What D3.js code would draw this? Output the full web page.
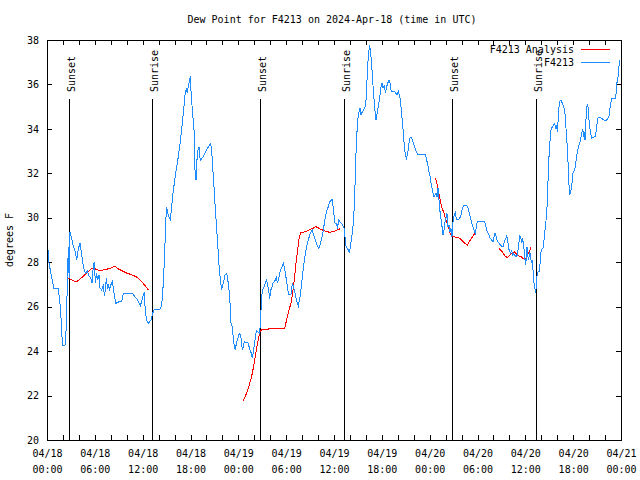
<!DOCTYPE html>
<html><head><meta charset="utf-8">
<script src="https://cdn.jsdelivr.net/npm/d3@7"></script>
<style>
html,body{margin:0;padding:0;background:#fff;}
svg{display:block;font-family:"DejaVu Sans Mono",monospace;font-size:10px;}
</style></head><body>
<svg id="chart" width="640" height="480"></svg>
<script>
// ---------- data ----------
const chartTitle = "Dew Point for F4213 on 2024-Apr-18 (time in UTC)";
const yAxisLabel = "degrees F";
const startTime = "2024-04-18T00:00:00Z";
const xDomainHours = [0, 72];
const yDomain = [20, 38];
const yTickValues = [20, 22, 24, 26, 28, 30, 32, 34, 36, 38];
const xLabelHours = [0, 6, 12, 18, 24, 30, 36, 42, 48, 54, 60, 66, 72];
const xTickHours = [0,2,4,6,8,10,12,14,16,18,20,22,24,26,28,30,32,34,36,38,40,42,44,46,48,50,52,54,56,58,60,62,64,66,68,70,72];
const seriesNames = ["F4213 Analysis", "F4213"];
const seriesColors = ["#ff0000", "#1e8cff"];
const sunEventNames = ["Sunset", "Sunrise", "Sunset", "Sunrise", "Sunset", "Sunrise"];
const sunEventHours = [2.8, 13.21, 26.72, 37.3, 50.84, 61.3];

// observed F4213 (hours since start, dew point F)
const obsHours = [0.17,0.22,0.59,0.88,1.42,1.71,1.84,1.96,2.26,2.38,2.47,2.6,2.67,2.78,2.88,3.09,3.3,3.5,3.72,3.84,4.01,4.14,4.35,4.56,4.81,5.06,5.27,5.48,5.65,5.81,5.94,6.06,6.23,6.36,6.52,6.65,6.86,7.07,7.2,7.32,7.45,7.57,7.7,7.82,8.03,8.2,8.4,8.61,8.82,9.16,9.37,9.58,9.79,10.62,10.83,11.12,11.33,11.54,11.7,11.88,12.08,12.2,12.29,12.41,12.58,12.71,13.05,13.26,13.46,14.17,14.38,14.51,14.63,14.76,14.89,15.01,15.14,15.3,15.47,15.64,15.8,15.97,16.13,16.3,16.47,16.64,16.81,16.97,17.14,17.31,17.47,17.6,17.72,17.85,17.98,18.1,18.27,18.44,18.56,18.69,18.81,18.94,19.06,19.15,19.27,19.61,20.03,20.36,20.53,20.65,20.78,20.95,21.07,21.24,21.41,21.53,21.66,21.78,21.91,22.03,22.16,22.33,22.54,22.66,22.83,22.96,23.08,23.25,23.37,23.5,23.62,23.75,23.87,24.0,24.13,24.25,24.38,24.5,24.63,24.75,25.0,25.2,25.41,25.63,25.75,25.92,26.09,26.26,26.47,26.68,26.76,26.89,27.01,27.18,27.31,27.43,27.56,27.68,27.81,27.93,28.06,28.18,28.35,28.48,28.64,28.77,28.9,29.06,29.19,29.31,29.48,29.65,29.78,29.9,30.03,30.15,30.28,30.61,30.78,30.9,31.07,31.24,31.4,31.53,31.65,31.78,31.9,32.03,32.15,32.28,32.45,32.61,32.78,32.95,33.12,33.28,33.45,33.62,33.79,33.95,34.12,34.29,34.46,34.62,34.79,34.96,35.13,35.29,35.46,35.63,35.8,35.97,36.13,36.3,36.43,36.59,36.76,36.93,37.09,37.3,37.38,37.47,37.63,37.8,37.92,38.05,38.22,38.38,38.55,38.68,38.8,38.97,39.14,39.26,39.39,39.56,39.73,39.89,40.02,40.14,40.27,40.39,40.47,40.6,40.73,40.85,40.98,41.06,41.19,41.27,41.4,41.56,41.73,41.9,42.02,42.15,42.32,42.44,42.61,42.73,42.9,43.03,43.15,43.28,43.57,43.78,43.9,44.07,44.2,44.32,44.45,44.57,44.7,44.82,44.95,45.08,45.2,45.33,45.45,45.58,45.7,45.83,45.99,46.16,46.33,46.5,47.46,47.59,47.71,47.84,47.96,48.09,48.17,48.3,48.42,48.55,48.67,48.8,48.92,49.05,49.17,49.26,49.38,49.42,49.55,49.67,49.8,49.92,50.05,50.17,50.3,50.42,50.55,50.67,50.8,50.88,50.97,51.09,51.22,51.34,51.47,51.59,51.76,51.93,52.1,52.26,52.43,52.6,52.76,52.93,53.1,53.26,53.43,53.6,53.73,53.85,53.98,54.9,55.02,55.15,55.27,55.44,55.61,55.78,55.94,56.07,56.2,56.32,56.45,56.57,56.7,56.87,57.04,57.2,57.37,57.54,57.66,57.79,57.91,58.04,58.16,58.29,58.41,58.54,58.66,58.79,58.91,59.04,59.16,59.29,59.41,59.54,59.66,59.79,59.92,60.04,60.13,60.21,60.3,60.38,60.46,60.55,60.63,60.71,60.8,60.88,60.96,61.05,61.13,61.21,61.3,61.38,61.46,61.59,61.8,61.88,62.0,62.22,62.34,62.47,62.6,62.72,62.85,62.97,63.1,63.22,63.39,63.56,63.68,63.81,63.89,64.02,64.1,64.18,64.31,64.48,64.64,64.81,64.94,65.06,65.23,65.36,65.48,65.57,65.69,65.82,65.94,66.07,66.2,66.32,66.45,66.57,66.7,66.82,66.95,67.07,67.2,67.33,67.41,67.49,67.58,67.7,67.83,67.91,68.04,68.16,68.29,68.41,68.75,68.87,69.0,69.13,69.33,69.54,69.84,70.09,70.26,70.47,70.59,70.76,70.88,71.3,71.38,71.47,71.59,71.68,71.76,71.84];
const obsDewPoint = [28.55,28.03,27.3,26.8,26.8,25.88,24.84,24.25,24.25,24.84,25.96,27.66,28.7,27.3,29.36,29.07,28.7,28.55,28.1,28.4,28.7,28.85,28.33,27.8,27.5,27.6,27.36,27.3,27.07,27.8,28.03,27.07,27.5,27.2,27.44,26.85,26.74,27.0,26.47,26.77,27.3,26.85,26.95,26.77,27.0,27.14,26.62,26.15,26.18,26.25,26.25,26.6,26.6,26.6,26.55,26.4,26.33,26.18,26.03,26.25,26.55,26.62,26.03,25.58,25.32,25.25,25.4,25.7,25.88,25.88,26.07,26.6,27.35,28.4,29.82,30.5,30.2,30.05,29.93,30.5,31.1,31.55,32.0,32.37,32.75,33.2,33.72,34.25,34.85,35.53,35.83,35.6,35.9,36.12,36.38,35.45,34.7,33.95,32.15,31.7,32.6,33.05,33.2,32.75,32.6,32.75,33.05,33.27,33.35,33.05,32.3,31.4,30.65,29.75,28.85,28.1,27.5,27.12,26.75,26.97,27.12,27.42,27.5,27.27,26.75,26.15,25.25,25.1,24.57,24.2,24.05,24.35,24.5,24.65,24.8,24.72,24.5,24.05,24.2,24.42,24.38,24.38,24.12,23.9,23.68,24.05,24.5,24.92,24.87,24.8,25.32,26.15,26.75,26.82,26.97,27.12,27.2,26.97,26.75,26.37,26.75,26.82,27.05,27.12,27.2,27.32,27.08,27.27,27.5,27.68,27.77,27.95,27.77,27.5,27.2,26.9,26.57,26.57,27.05,26.9,26.67,26.37,26.15,26.03,26.3,26.52,26.9,27.35,27.72,28.1,28.47,28.77,29.0,29.22,29.37,29.45,29.22,29.03,28.85,28.7,28.62,28.85,29.07,29.37,29.75,30.12,30.35,30.5,30.72,30.77,30.83,30.2,29.75,29.75,29.52,29.9,29.82,29.75,29.67,29.52,29.15,28.78,28.63,28.55,28.4,28.7,29.08,29.6,30.5,32.0,33.35,34.4,34.78,34.93,34.63,34.78,34.85,35.0,35.3,36.2,37.1,37.55,37.78,37.4,36.88,36.13,35.6,35.08,34.63,34.4,34.7,35.0,35.38,35.9,36.05,35.83,35.98,35.6,35.9,36.05,36.2,36.05,35.75,35.68,35.68,35.6,35.53,35.68,35.53,35.3,34.85,34.33,33.8,33.2,32.83,32.68,32.83,33.13,33.5,33.62,33.62,33.5,33.32,33.13,32.98,32.86,32.86,32.68,32.45,32.23,32.0,31.78,31.55,31.33,31.1,30.95,31.03,31.1,30.95,31.33,30.8,30.28,30.28,29.97,29.6,29.22,29.45,29.82,29.97,30.2,29.6,29.67,29.37,29.52,29.15,29.6,29.97,30.12,30.23,29.97,29.9,29.93,29.97,30.12,30.42,30.57,30.57,30.57,30.5,30.27,30.02,29.78,29.6,29.42,29.3,29.6,29.82,29.82,29.67,29.45,29.37,29.22,29.07,29.0,28.92,29.15,29.33,29.18,29.0,28.92,28.85,28.77,28.72,28.7,28.92,29.07,29.18,29.0,28.62,28.47,28.4,28.52,28.32,28.4,28.32,28.25,28.25,28.4,28.77,29.18,29.12,28.92,29.03,28.77,28.25,27.87,28.25,28.7,28.32,28.12,28.25,28.47,28.32,28.1,27.95,28.1,27.65,27.27,26.82,26.82,26.6,26.97,27.35,27.58,27.58,28.25,28.55,28.63,29.0,29.45,29.9,30.5,31.7,32.75,33.5,33.95,34.1,34.18,34.25,34.07,34.18,33.88,34.33,34.85,35.23,35.3,35.15,35.0,34.85,34.25,33.35,32.45,31.48,31.03,31.18,31.4,32.0,32.08,32.15,32.45,32.83,33.05,33.23,33.35,33.58,33.8,33.98,33.65,33.88,33.5,34.25,35.0,35.08,34.85,34.1,33.95,33.58,33.62,33.65,33.88,34.25,34.52,34.52,34.48,34.4,34.37,34.43,34.52,34.85,35.23,35.38,35.38,35.6,36.05,36.2,36.5,36.88,37.1];

// analysis F4213 (null marks a gap)
const anaHours = [2.68,3.09,3.64,4.14,4.77,5.31,5.81,6.23,6.65,7.28,7.9,8.53,8.95,9.5,10.0,10.62,11.25,11.67,12.08,12.42,12.75,null,24.62,25.03,25.37,25.66,25.87,26.08,26.29,26.5,26.71,26.92,27.55,28.38,29.22,29.8,30.05,30.3,30.6,30.81,31.02,31.23,31.44,31.64,31.85,32.36,32.86,33.32,33.74,34.24,34.87,35.42,36.0,36.46,36.75,null,48.75,49.0,49.29,49.5,49.8,50.05,50.34,50.55,50.84,51.6,52.0,52.33,52.71,53.05,53.38,53.68,null,56.7,56.91,57.12,57.33,57.54,57.75,57.96,58.16,58.46,58.71,58.91,59.2,59.46,59.71,59.96,60.17,60.38,60.59,60.75];
const anaDewPoint = [27.29,27.21,27.1,27.24,27.44,27.63,27.76,27.66,27.63,27.66,27.73,27.81,27.7,27.6,27.51,27.44,27.33,27.21,27.04,26.89,26.74,null,21.75,22.1,22.47,22.85,23.22,23.67,24.12,24.5,24.87,24.95,24.98,25.03,25.0,25.0,25.4,25.78,26.15,26.6,27.2,27.95,28.55,29.15,29.33,29.37,29.45,29.52,29.6,29.5,29.4,29.35,29.38,29.47,29.5,null,31.78,31.4,30.87,30.5,30.2,29.9,29.6,29.33,29.15,29.12,29.0,28.88,28.77,28.97,29.15,29.3,null,28.62,28.55,28.47,28.35,28.25,28.22,28.28,28.35,28.42,28.47,28.35,28.28,28.25,28.17,28.1,28.25,28.4,28.57,28.7];

// ---------- drawing ----------
const svg = d3.select("#chart");
const W = 640, H = 480;
const plot = {left: 47, right: 621, top: 40, bottom: 440};
const t0 = new Date(startTime).getTime();
const toDate = h => new Date(t0 + h * 3600e3);

const x = d3.scaleUtc().domain(xDomainHours.map(toDate)).range([plot.left, plot.right]);
const y = d3.scaleLinear().domain(yDomain).range([plot.bottom, plot.top]);

// title
svg.append("text").attr("x", 332).attr("y", 23).attr("text-anchor", "middle").text(chartTitle);

// y label
svg.append("text").attr("transform", `translate(13,240) rotate(-90)`).attr("text-anchor", "middle").text(yAxisLabel);

// axes ticks
const tickDates = xTickHours.map(toDate);
const gB = svg.append("g").attr("transform", `translate(0,${plot.bottom})`)
  .call(d3.axisBottom(x).tickValues(tickDates).tickSizeInner(-5).tickSizeOuter(0).tickFormat(""));
const gT = svg.append("g").attr("transform", `translate(0,${plot.top})`)
  .call(d3.axisTop(x).tickValues(tickDates).tickSizeInner(-5).tickSizeOuter(0).tickFormat(""));
const gL = svg.append("g").attr("transform", `translate(${plot.left},0)`)
  .call(d3.axisLeft(y).tickValues(yTickValues).tickSizeInner(-5).tickSizeOuter(0).tickPadding(8).tickFormat(d3.format("d")));
const gR = svg.append("g").attr("transform", `translate(${plot.right},0)`)
  .call(d3.axisRight(y).tickValues(yTickValues).tickSizeInner(-5).tickSizeOuter(0).tickFormat(""));
[gB, gT, gL, gR].forEach(g => {
  g.select(".domain").remove();
  g.selectAll("line").attr("stroke", "#000").attr("shape-rendering", "crispEdges");
  g.selectAll("text").attr("fill", "#000").attr("font-family", "DejaVu Sans Mono, monospace").attr("font-size", 10);
});

// two-line x labels
const fmtDay = d3.utcFormat("%m/%d"), fmtTime = d3.utcFormat("%H:%M");
const gX = svg.append("g").attr("transform", `translate(0,${plot.bottom})`)
  .call(d3.axisBottom(x).tickValues(xLabelHours.map(toDate)).tickSize(0).tickFormat(fmtDay));
gX.select(".domain").remove();
gX.selectAll("text").attr("fill", "#000").attr("font-family", "DejaVu Sans Mono, monospace").attr("font-size", 10)
  .attr("dy", null).attr("y", null)
  .each(function(d) {
    const t = d3.select(this);
    t.text(null);
    t.append("tspan").attr("x", 0).attr("y", 17).text(fmtDay(d));
    t.append("tspan").attr("x", 0).attr("y", 33).text(fmtTime(d));
  });

// frame
svg.append("rect").attr("x", plot.left + 0.5).attr("y", plot.top + 0.5)
  .attr("width", plot.right - plot.left).attr("height", plot.bottom - plot.top)
  .attr("fill", "none").attr("stroke", "#000").attr("shape-rendering", "crispEdges");

// sun events
sunEventHours.forEach((h, i) => {
  const xx = Math.round(x(toDate(h))) + 0.5;
  svg.append("line").attr("x1", xx).attr("x2", xx).attr("y1", y(yDomain[0])).attr("y2", 99)
    .attr("stroke", "#000").attr("shape-rendering", "crispEdges");
  svg.append("text").attr("transform", `translate(${xx + 5},92) rotate(-90)`)
    .attr("text-anchor", "start").text(sunEventNames[i]);
});

// lines
const anaData = anaHours.map((h, i) => ({h, v: anaDewPoint[i]}));
const obsData = obsHours.map((h, i) => ({h, v: obsDewPoint[i]}));
const line = d3.line().defined(d => d.h != null && d.v != null)
  .x(d => x(toDate(d.h))).y(d => y(d.v));

svg.append("path").datum(anaData).attr("d", line).attr("fill", "none")
  .attr("stroke", seriesColors[0]).attr("stroke-width", 1).attr("shape-rendering", "crispEdges");
svg.append("path").datum(obsData).attr("d", line).attr("fill", "none")
  .attr("stroke", seriesColors[1]).attr("stroke-width", 1).attr("shape-rendering", "crispEdges");

// legend
seriesNames.forEach((name, i) => {
  const ly = 49.5 + i * 13;
  svg.append("text").attr("x", 574).attr("y", ly + 3.6).attr("text-anchor", "end").text(name);
  svg.append("line").attr("x1", 581).attr("x2", 610).attr("y1", ly).attr("y2", ly)
    .attr("stroke", seriesColors[i]).attr("shape-rendering", "crispEdges");
});
</script>
</body></html>
